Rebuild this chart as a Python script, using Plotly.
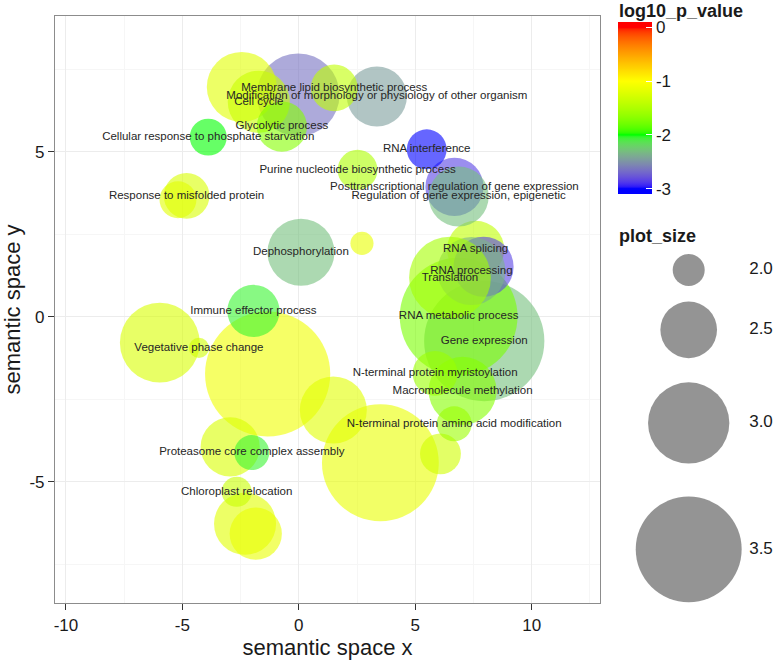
import numpy as np
import plotly.graph_objects as go

# ---------------- data, in drawing order ----------------
label = [
    "", "Gene expression", "RNA metabolic process", "", "",
    "", "RNA splicing", "", "RNA processing", "Translation",
    "", "Macromolecule methylation", "Dephosphorylation", "", "Cell cycle",
    "", "Modification of morphology or physiology of other organism",
    "Posttranscriptional regulation of gene expression",
    "Regulation of gene expression, epigenetic", "",
    "Immune effector process", "", "Glycolytic process",
    "Membrane lipid biosynthetic process", "Response to misfolded protein",
    "N-terminal protein myristoylation", "", "RNA interference",
    "Purine nucleotide biosynthetic process",
    "Cellular response to phosphate starvation", "",
    "N-terminal protein amino acid modification",
    "Proteasome core complex assembly", "Chloroplast relocation", "",
    "Vegetative phase change",
]
plot_x = [
    -1.34, 7.96, 6.86, 3.50, -0.03,
    -5.97, 7.59, 7.93, 7.41, 6.49,
    -2.45, 7.03, 0.09, 1.48, -1.72,
    -2.31, 3.35,
    6.68,
    6.86, -2.95,
    -1.95, -1.85, -0.73,
    1.52, -4.82,
    5.85, 6.08, 5.49,
    2.52,
    -3.89, -5.19,
    6.67,
    -2.02, -2.67, 2.71,
    -4.29,
]
plot_y = [
    -1.74, -0.74, 0.00, -4.43, 6.72,
    -0.79, 2.04, 1.51, 1.38, 1.18,
    6.96, -2.25, 1.95, -2.83, 6.51,
    -6.28, 6.67,
    3.93,
    3.64, -3.95,
    0.17, -6.58, 5.76,
    6.93, 3.66,
    -1.72, -4.16, 5.07,
    4.45,
    5.44, 3.54,
    -3.25,
    -4.12, -5.31, 2.22,
    -0.95,
]
plot_size = [
    3.89, 3.79, 3.74, 3.72, 3.03,
    2.97, 2.51, 2.57, 2.73, 3.01,
    2.77, 2.73, 2.71, 2.71, 2.61,
    2.61, 2.57,
    2.53,
    2.57, 2.55,
    2.41, 2.41, 2.37,
    2.30, 2.28,
    2.26, 2.18, 2.16,
    2.16,
    2.10, 2.10,
    2.06,
    2.06, 1.96, 1.82,
    1.76,
]
log10_p_value = [
    -1.10, -2.30, -1.75, -1.15, -2.65,
    -1.25, -1.40, -2.85, -2.35, -1.55,
    -1.20, -1.70, -2.30, -1.20, -1.35,
    -1.20, -2.45,
    -2.85,
    -2.30, -1.25,
    -2.05, -1.15, -1.70,
    -1.40, -1.25,
    -1.60, -1.30, -3.00,
    -1.50,
    -2.00, -1.20,
    -1.60,
    -2.05, -1.35, -1.15,
    -1.30,
]
size_breaks = [2.0, 2.5, 3.0, 3.5]
size_break_text = ["2.0", "2.5", "3.0", "3.5"]
x_ticks = [-10, -5, 0, 5, 10]
y_ticks = [-5, 0, 5]
cbar_ticks = [0, -1, -2, -3]

# ---------------- scales ----------------
def size_px(v):
    return 32 + (v - 2.0) * 49.3

M = np.array([[0.4124564, 0.3575761, 0.1804375],
              [0.2126729, 0.7151522, 0.0721750],
              [0.0193339, 0.1191920, 0.9503041]])
Minv = np.linalg.inv(M)
WHITE = np.array([0.95047, 1.0, 1.08883])

def hex_to_lab(h):
    rgb = np.array([int(h[i:i + 2], 16) / 255 for i in (1, 3, 5)])
    lin = np.where(rgb <= 0.04045, rgb / 12.92, ((rgb + 0.055) / 1.055) ** 2.4)
    xyz = M @ lin / WHITE
    d = 6 / 29
    f = np.where(xyz > d ** 3, np.cbrt(xyz), xyz / (3 * d * d) + 4 / 29)
    return np.array([116 * f[1] - 16, 500 * (f[0] - f[1]), 200 * (f[1] - f[2])])

def lab_to_rgbstr(lab):
    L, a, b = lab
    fy = (L + 16) / 116
    f = np.array([fy + a / 500, fy, fy - b / 200])
    d = 6 / 29
    xyz = np.where(f > d, f ** 3, 3 * d * d * (f - 4 / 29)) * WHITE
    lin = np.clip(Minv @ xyz, 0, 1)
    srgb = np.where(lin <= 0.0031308, 12.92 * lin, 1.055 * lin ** (1 / 2.4) - 0.055)
    srgb = np.clip(np.round(srgb * 255), 0, 255).astype(int)
    return "rgb(%d,%d,%d)" % tuple(srgb)

anchor_labs = [hex_to_lab(h) for h in ["#0000FF", "#00FF00", "#FFFF00", "#FF0000"]]
CMIN, CMAX = -3.1, 0.1
colorscale = []
N = 96
for i in range(N + 1):
    t = i / N
    v = min(max(CMIN + t * (CMAX - CMIN), -3.0), 0.0)
    pos = v + 3.0
    k = min(int(pos), 2)
    fr = pos - k
    lab = anchor_labs[k] * (1 - fr) + anchor_labs[k + 1] * fr
    colorscale.append([t, lab_to_rgbstr(lab)])

# ---------------- layout geometry ----------------
W, H = 778, 663
ML, MR, MT, MB = 55, 0, 16, 60
PW, PH = W - ML - MR, H - MT - MB
PANEL_RIGHT = 600
def paper_x(px):
    return (px - ML) / PW
def paper_y(py):
    return (H - MB - py) / PH

FONT = "Liberation Sans, Arial, sans-serif"

fig = go.Figure()
fig.add_trace(go.Scatter(
    x=plot_x, y=plot_y, mode="markers", hoverinfo="skip", showlegend=False,
    marker=dict(size=[size_px(v) for v in plot_size], sizemode="diameter",
                color=log10_p_value, colorscale=colorscale,
                cmin=CMIN, cmax=CMAX, opacity=0.6, line=dict(width=0),
                colorbar=dict(
                    x=paper_x(618), xanchor="left", xpad=0,
                    y=paper_y(22), yanchor="top", ypad=0,
                    len=172, lenmode="pixels", thickness=34, thicknessmode="pixels",
                    outlinewidth=0, tickvals=cbar_ticks,
                    ticktext=[str(t) for t in cbar_ticks],
                    ticks="inside", ticklen=6, tickcolor="white", tickwidth=1,
                    tickfont=dict(family=FONT, size=17, color="#1a1a1a"),
                    title=dict(text=""))),
))

lx = [plot_x[i] for i in range(len(label)) if label[i]]
ly = [plot_y[i] for i in range(len(label)) if label[i]]
lt = [label[i] for i in range(len(label)) if label[i]]
fig.add_trace(go.Scatter(
    x=lx, y=ly, mode="text", text=lt, textposition="middle center",
    textfont=dict(family=FONT, size=11.5, color="#262626"),
    hoverinfo="skip", showlegend=False))

# size legend (drawn on a pixel-unit helper axis)
key_d = [size_px(v) for v in size_breaks]
key_y = [270.0]
for i in range(1, len(key_d)):
    key_y.append(key_y[-1] + 1.35 * (key_d[i - 1] + key_d[i]) / 2)
fig.add_trace(go.Scatter(
    x=[688.7] * len(size_breaks), y=key_y, xaxis="x2", yaxis="y2", mode="markers",
    marker=dict(size=key_d, sizemode="diameter", color="#666666", line=dict(width=0)),
    hoverinfo="skip", showlegend=False, cliponaxis=False))
fig.add_trace(go.Scatter(
    x=[761] * len(size_breaks), y=key_y, xaxis="x2", yaxis="y2", mode="text",
    text=size_break_text, textposition="middle center",
    textfont=dict(family=FONT, size=17, color="#1a1a1a"),
    hoverinfo="skip", showlegend=False, cliponaxis=False))

axis_common = dict(
    showline=True, mirror=True, linecolor="#8c8c8c", linewidth=1.2,
    ticks="outside", ticklen=6, tickcolor="#333333", tickwidth=1.2,
    showgrid=True, gridcolor="#ececec", gridwidth=1, zeroline=False,
    tickfont=dict(family=FONT, size=17, color="#1a1a1a"),
    minor=dict(tickmode="linear", tick0=0, dtick=2.5, showgrid=True,
               gridcolor="#f6f6f6", gridwidth=1, ticks=""),
    automargin=False,
)

fig.update_layout(
    width=W, height=H, margin=dict(l=ML, r=MR, t=MT, b=MB),
    paper_bgcolor="white", plot_bgcolor="white", showlegend=False,
    xaxis=dict(domain=[0, (PANEL_RIGHT - ML) / PW], range=[-10.47, 12.93],
               tickvals=x_ticks, ticktext=[str(t) for t in x_ticks],
               title=dict(text="semantic space x",
                          font=dict(family=FONT, size=22, color="#1a1a1a"), standoff=6),
               **axis_common),
    yaxis=dict(range=[-8.68, 9.11], tickvals=y_ticks, ticktext=[str(t) for t in y_ticks],
               title=dict(text="semantic space y",
                          font=dict(family=FONT, size=22, color="#1a1a1a"), standoff=6),
               **axis_common),
    xaxis2=dict(domain=[(PANEL_RIGHT - ML) / PW, 1], range=[PANEL_RIGHT, W],
                visible=False, fixedrange=True),
    yaxis2=dict(anchor="x2", domain=[0, 1], range=[H - MB, MT],
                visible=False, fixedrange=True),
    annotations=[
        dict(text="<b>log10_p_value</b>", x=paper_x(617), y=paper_y(11),
             xref="paper", yref="paper", xanchor="left", yanchor="middle",
             showarrow=False, font=dict(family=FONT, size=18, color="#1a1a1a")),
        dict(text="<b>plot_size</b>", x=paper_x(617), y=paper_y(236),
             xref="paper", yref="paper", xanchor="left", yanchor="middle",
             showarrow=False, font=dict(family=FONT, size=18, color="#1a1a1a")),
    ],
)

fig.write_html("out.html", config={"displayModeBar": False},
               post_script="document.body.style.margin='0px';")
